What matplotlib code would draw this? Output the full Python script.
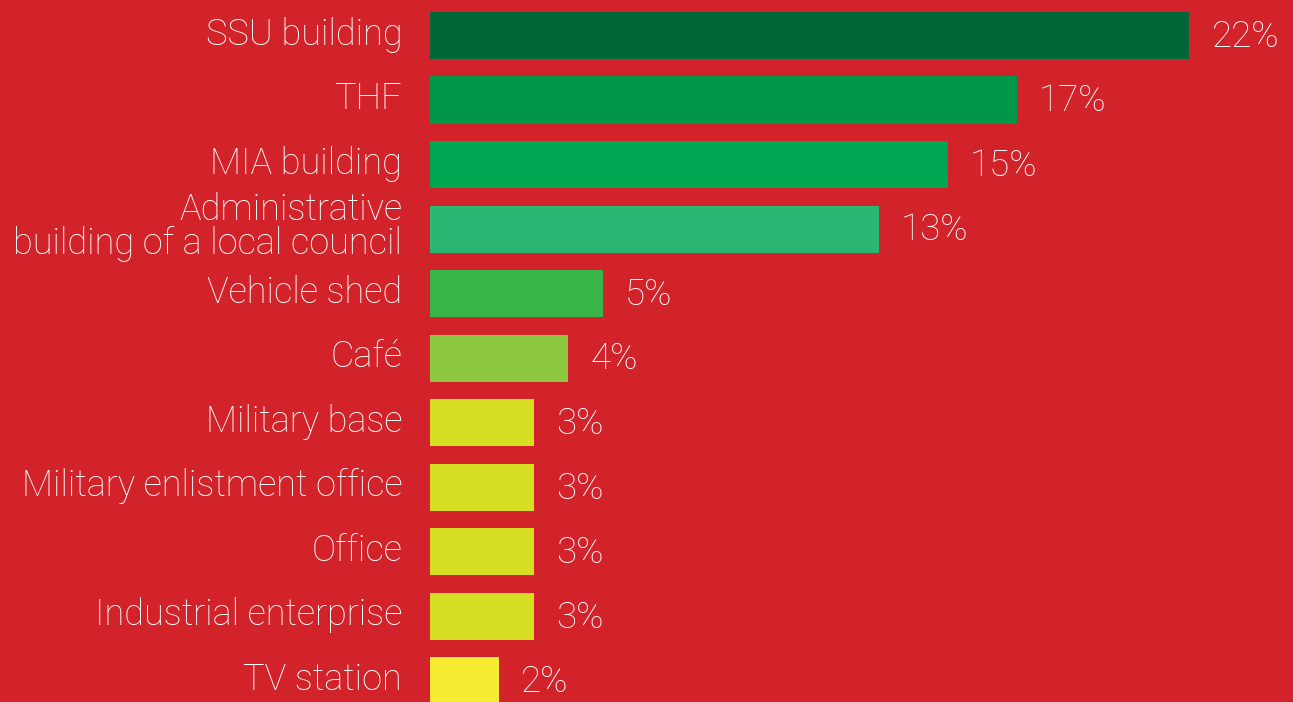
import matplotlib.pyplot as plt
import matplotlib.transforms as mtransforms
import numpy as np

# Share of objects hit
categories = ['SSU building', 'THF', 'MIA building',
              'Administrative\nbuilding of a local council', 'Vehicle shed',
              'Café', 'Military base', 'Military enlistment office', 'Office',
              'Industrial enterprise', 'TV station']
shares = [22, 17, 15, 13, 5, 4, 3, 3, 3, 3, 2]
bar_colors = ['#006838', '#009848', '#00A651', '#2BB673', '#39B54A', '#8DC63F',
              '#D7DF23', '#D7DF23', '#D7DF23', '#D7DF23', '#F7EC31']

bg = '#D2232A'
plt.rcParams['font.family'] = ['Roboto', 'DejaVu Sans']

fig = plt.figure(figsize=(12.93, 7.02), dpi=100, facecolor=bg)
ax = fig.add_axes([430 / 1293, 0, 1 - 430 / 1293, 1])
ax.set_facecolor(bg)

y = np.arange(len(categories))
ax.barh(y, shares, height=0.73, color=bar_colors)

for yi, v in zip(y, shares):
    ax.annotate('{}%'.format(v), (v, yi), xytext=(16, -1), textcoords='offset points',
                va='center', ha='left', color='white', fontsize=26.5, fontweight='light')

ax.set_xlim(0, 25)
ax.set_ylim(10.33, -0.55)
ax.set_yticks(y)
ax.set_yticklabels(categories, color='white', fontsize=26, fontweight='light',
                   linespacing=0.92)
ax.tick_params(axis='y', length=0, pad=20)
# nudge labels up a little
shift = mtransforms.ScaledTranslation(0, 3.5 / 72, fig.dpi_scale_trans)
for lab in ax.get_yticklabels():
    lab.set_transform(lab.get_transform() + shift)
ax.set_xticks([])
for s in ax.spines.values():
    s.set_visible(False)

fig.savefig('out.png', dpi=100, facecolor=bg)
